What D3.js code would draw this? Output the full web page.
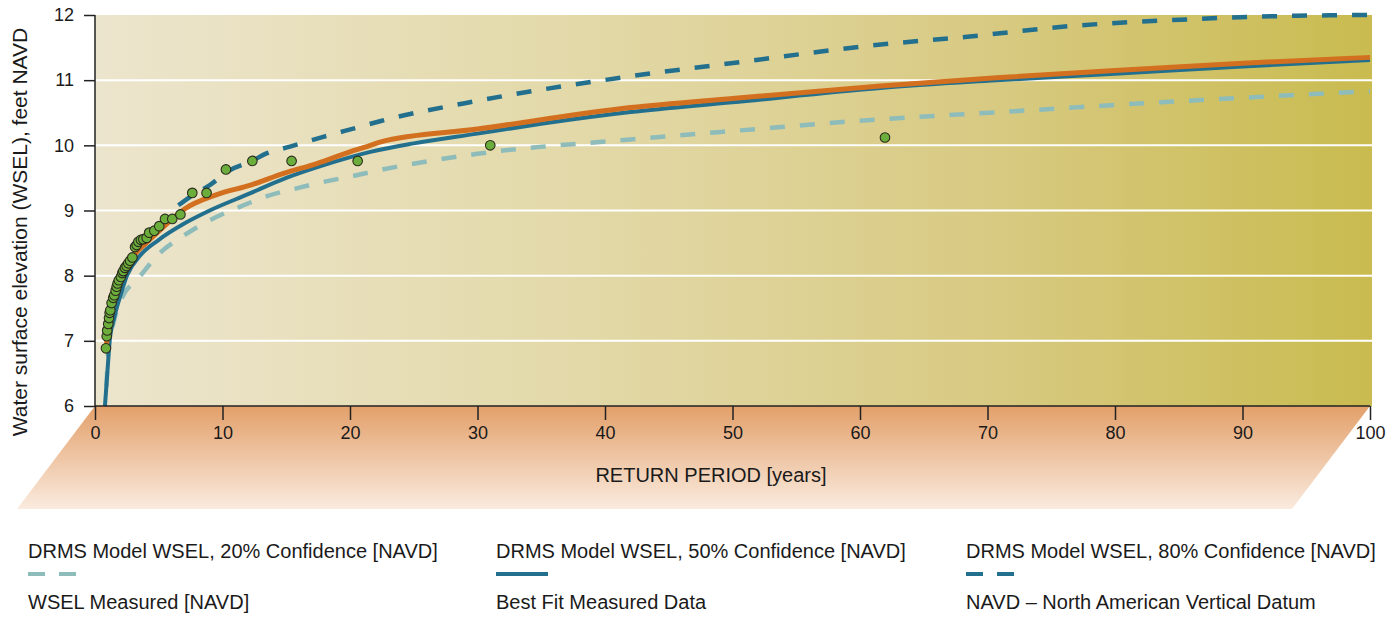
<!DOCTYPE html>
<html>
<head>
<meta charset="utf-8">
<script src="https://cdn.jsdelivr.net/npm/d3@7"></script>
<style>
  html, body { margin: 0; padding: 0; background: #fff; }
  svg text { font-family: "Liberation Sans", Arial, sans-serif; fill: #1a1a1a; }
</style>
</head>
<body>
<div id="chart"></div>
<script>
// Axis ticks
const xTicks = [0, 10, 20, 30, 40, 50, 60, 70, 80, 90, 100];
const yTicks = [6, 7, 8, 9, 10, 11, 12];
const gridValues = [7, 8, 9, 10, 11];

// Measured WSEL (return period in years, elevation in feet NAVD)
const measuredYears = [0.86, 0.92, 0.96, 1.04, 1.10, 1.15, 1.2, 1.3, 1.43, 1.51, 1.62, 1.7, 1.77, 1.87,
  2.03, 2.14, 2.22, 2.35, 2.48, 2.61, 2.75, 2.93, 3.14, 3.27, 3.4, 3.6, 3.79, 4.05, 4.25, 4.65,
  5.04, 5.49, 6.06, 6.7, 7.63, 8.75, 10.27, 12.34, 15.42, 20.6, 31.0, 61.96];
const measuredWsel = [6.885, 7.07, 7.16, 7.26, 7.35, 7.43, 7.47, 7.58, 7.66, 7.70, 7.77, 7.83, 7.88, 7.93,
  7.98, 8.04, 8.07, 8.12, 8.15, 8.19, 8.23, 8.28, 8.44, 8.47, 8.52, 8.55, 8.56, 8.58, 8.66, 8.69,
  8.76, 8.87, 8.87, 8.94, 9.27, 9.27, 9.63, 9.76, 9.76, 9.76, 10.0, 10.12];

// Model curves [years, feet]
const conf20 = [[0.9, 6.3], [1.05, 6.86], [1.44, 7.27], [2.1, 7.65], [3.4, 7.96], [5, 8.33], [7, 8.62],
  [9, 8.85], [11.4, 9.06], [13.5, 9.22], [15.8, 9.34], [18.2, 9.45], [20.5, 9.54], [22.35, 9.62],
  [30, 9.87], [42, 10.09], [50, 10.22], [61.6, 10.4], [71, 10.51], [80, 10.62], [90, 10.73], [100, 10.83]];
const conf50 = [[0.78, 6.0], [1.0, 6.6], [1.15, 7.0], [1.5, 7.35], [2.0, 7.7], [2.5, 8.0], [3.5, 8.3],
  [5, 8.55], [7, 8.8], [9, 9.0], [12, 9.25], [15, 9.5], [18, 9.7], [21.6, 9.9], [25, 10.03], [30, 10.18],
  [35, 10.33], [42, 10.51], [50, 10.66], [61.6, 10.88], [70, 10.99], [80, 11.1], [90, 11.21], [100, 11.31]];
const conf80 = [[6.54, 9.08], [7.7, 9.24], [9.0, 9.39], [10.6, 9.62], [12.2, 9.75], [13.5, 9.88],
  [15.3, 9.98], [17.9, 10.13], [20.5, 10.27], [22.35, 10.37], [30.2, 10.69], [42, 11.06], [51.1, 11.29],
  [60.8, 11.53], [68.6, 11.67], [76.5, 11.83], [84.3, 11.92], [92.2, 11.98], [100, 12.0]];
const bestFit = [[0.9, 6.95], [1.3, 7.5], [2, 7.95], [3, 8.3], [4, 8.5], [5, 8.68], [7, 9.02], [9.5, 9.24],
  [12.2, 9.39], [14.8, 9.57], [17.4, 9.72], [20, 9.9], [21.6, 10.0], [22.35, 10.05], [30, 10.25],
  [42, 10.58], [50, 10.72], [61.6, 10.91], [71, 11.04], [80, 11.15], [90, 11.26], [100, 11.35]];

const legendRow1 = ["DRMS Model WSEL, 20% Confidence [NAVD]", "DRMS Model WSEL, 50% Confidence [NAVD]", "DRMS Model WSEL, 80% Confidence [NAVD]"];
const legendRow2 = ["WSEL Measured [NAVD]", "Best Fit Measured Data", "NAVD – North American Vertical Datum"];

const W = 1391, H = 619;
const svg = d3.select("#chart").append("svg").attr("width", W).attr("height", H);

const x = d3.scaleLinear().domain([0, 100]).range([95, 1370]);
const y = d3.scaleLinear().domain([6, 12]).range([406, 15]);

const colors = {
  light: "#8dbcbb",
  dark: "#226f8e",
  orange: "#d3701f",
  dot: "#6cae3c"
};

// Gradients
const defs = svg.append("defs");
const bg = defs.append("linearGradient").attr("id", "plotBg").attr("x1", 0).attr("x2", 1).attr("y1", 0).attr("y2", 0);
bg.append("stop").attr("offset", "0%").attr("stop-color", "#ece5cd");
bg.append("stop").attr("offset", "40%").attr("stop-color", "#e2d8a6");
bg.append("stop").attr("offset", "70%").attr("stop-color", "#d8ca82");
bg.append("stop").attr("offset", "100%").attr("stop-color", "#c9bb4f");
const fl = defs.append("linearGradient").attr("id", "floorBg").attr("x1", 0).attr("x2", 0).attr("y1", 0).attr("y2", 1);
fl.append("stop").attr("offset", "0%").attr("stop-color", "#e3a06a");
fl.append("stop").attr("offset", "100%").attr("stop-color", "#faebdf");

// Floor under the x axis
const shift = 78, floorBottom = 509;
svg.append("polygon")
  .attr("points", [
    [x(0), y(6)], [x(100), y(6)], [x(100) - shift, floorBottom], [x(0) - shift, floorBottom]
  ].map(p => p.join(",")).join(" "))
  .attr("fill", "url(#floorBg)");

// Plot background
svg.append("rect")
  .attr("x", x(0)).attr("y", y(12))
  .attr("width", x(100) - x(0) + 2).attr("height", y(6) - y(12))
  .attr("fill", "url(#plotBg)");

// Grid
svg.append("g").selectAll("line").data(gridValues).join("line")
  .attr("x1", x(0)).attr("x2", x(100) + 2)
  .attr("y1", d => y(d)).attr("y2", d => y(d))
  .attr("stroke", "#fff").attr("stroke-width", 2);

// Curves
const line = d3.line().x(d => x(d[0])).y(d => y(d[1])).curve(d3.curveMonotoneX);
const plot = svg.append("g");
plot.append("path").attr("d", line(conf20)).attr("fill", "none")
  .attr("stroke", colors.light).attr("stroke-width", 4.5).attr("stroke-dasharray", "15,15");
plot.append("path").attr("d", line(conf80)).attr("fill", "none")
  .attr("stroke", colors.dark).attr("stroke-width", 4.5).attr("stroke-dasharray", "15,15");
plot.append("path").attr("d", line(conf50)).attr("fill", "none")
  .attr("stroke", colors.dark).attr("stroke-width", 4);
plot.append("path").attr("d", line(bestFit)).attr("fill", "none")
  .attr("stroke", colors.orange).attr("stroke-width", 5);

// Measured points
plot.selectAll("circle").data(measuredYears).join("circle")
  .attr("cx", d => x(d))
  .attr("cy", (d, i) => y(measuredWsel[i]))
  .attr("r", 4.8)
  .attr("fill", colors.dot)
  .attr("stroke", "#2b2b1c").attr("stroke-width", 1.1);

// Axes
const yAxis = svg.append("g").attr("transform", `translate(${x(0)},0)`)
  .call(d3.axisLeft(y).tickValues(yTicks).tickFormat(d3.format("d")).tickSize(11).tickPadding(10));
const xAxis = svg.append("g").attr("transform", `translate(0,${y(6)})`)
  .call(d3.axisBottom(x).tickValues(xTicks).tickFormat(d3.format("d")).tickSize(14).tickPadding(6));
[yAxis, xAxis].forEach(a => {
  a.select(".domain").attr("stroke", "#222").attr("stroke-width", 1.5);
  a.selectAll(".tick line").attr("stroke", "#222").attr("stroke-width", 1.5);
  a.selectAll(".tick text").style("font-size", "18px").attr("fill", "#1a1a1a")
    .style("font-family", "'Liberation Sans', Arial, sans-serif");
});
yAxis.select(".domain").attr("d", `M0,${y(12)}V${y(6)}`);
xAxis.select(".domain").attr("d", `M${x(0)},0H${x(100)}`);

// Axis titles
svg.append("text")
  .attr("transform", `translate(27,232) rotate(-90)`)
  .attr("text-anchor", "middle")
  .style("font-size", "21px")
  .text("Water surface elevation (WSEL), feet NAVD");

svg.append("text")
  .attr("x", 711).attr("y", 482)
  .attr("text-anchor", "middle")
  .style("font-size", "20px")
  .text("RETURN PERIOD [years]");

// Legend
const legendX = [28, 496, 966];
const legend = svg.append("g");
legend.selectAll("text.r1").data(legendRow1).join("text").attr("class", "r1")
  .attr("x", (d, i) => legendX[i]).attr("y", 558)
  .style("font-size", "20px").text(d => d);
legend.selectAll("text.r2").data(legendRow2).join("text").attr("class", "r2")
  .attr("x", (d, i) => legendX[i]).attr("y", 609)
  .style("font-size", "20px").text(d => d);

const swatchY = 574;
legend.append("line").attr("x1", legendX[0]).attr("x2", legendX[0] + 48)
  .attr("y1", swatchY).attr("y2", swatchY)
  .attr("stroke", colors.light).attr("stroke-width", 4).attr("stroke-dasharray", "17,14");
legend.append("line").attr("x1", legendX[1]).attr("x2", legendX[1] + 52)
  .attr("y1", swatchY).attr("y2", swatchY)
  .attr("stroke", colors.dark).attr("stroke-width", 4);
legend.append("line").attr("x1", legendX[2]).attr("x2", legendX[2] + 48)
  .attr("y1", swatchY).attr("y2", swatchY)
  .attr("stroke", colors.dark).attr("stroke-width", 4).attr("stroke-dasharray", "17,14");
</script>
</body>
</html>
